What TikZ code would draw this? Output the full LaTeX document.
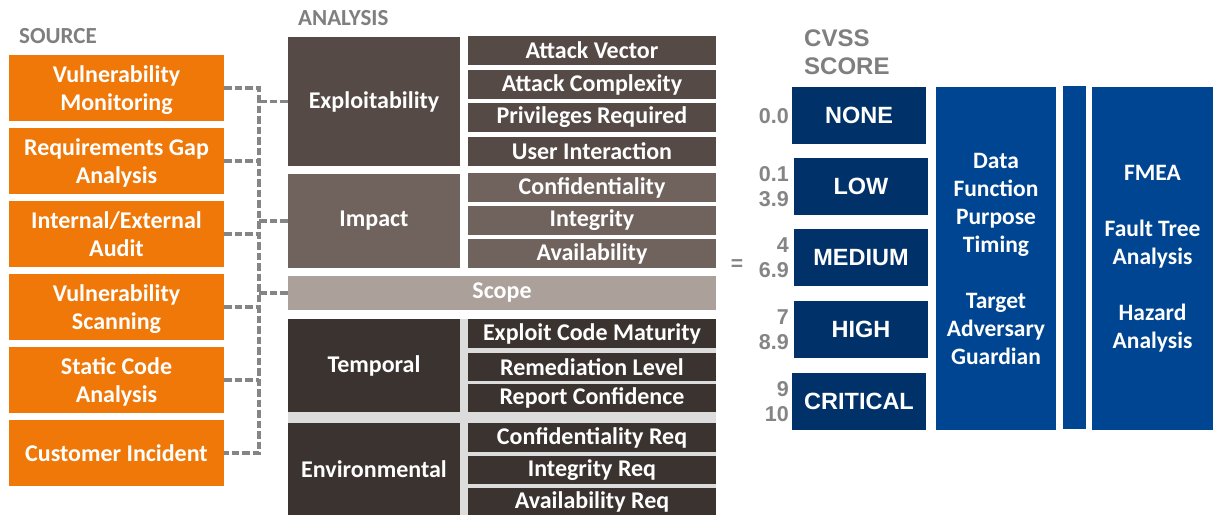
\documentclass[tikz,border=0pt]{standalone}
\usepackage{fontspec}
\setmainfont{Carlito}
\newfontfamily\arialfont{Liberation Sans}
\definecolor{srcorange}{HTML}{F07808}
\definecolor{exdark}{HTML}{554A45}
\definecolor{impbrown}{HTML}{70635D}
\definecolor{scopegray}{HTML}{ACA09B}
\definecolor{tempdark}{HTML}{3B3330}
\definecolor{bglight}{HTML}{DCDCDC}
\definecolor{navy}{HTML}{003269}
\definecolor{colblue}{HTML}{004592}
\definecolor{txtgray}{HTML}{7F7F7F}
\definecolor{numgray}{HTML}{858585}
\definecolor{dashgray}{HTML}{858585}
\tikzset{
  box/.style={anchor=north west, inner sep=0pt, outer sep=0pt, text=white, align=center,
    font=\bfseries\fontsize{24}{28}\selectfont},
  srcbox/.style={box, fill=srcorange, minimum width=215pt, minimum height=66pt, text depth=0pt},
  bigbox/.style={box, minimum width=172pt},
  subbox/.style={box, minimum width=248pt},
  scorebox/.style={box, fill=navy, minimum width=134pt, minimum height=57pt,
    font=\arialfont\bfseries\fontsize{23.5}{26}\selectfont},
  colbox/.style={box, fill=colblue, minimum height=343pt},
  numlbl/.style={anchor=east, inner sep=0pt, align=right, text=numgray,
    font=\arialfont\bfseries\fontsize{21.5}{25}\selectfont},
  heading/.style={anchor=north west, inner sep=0pt, text=txtgray, align=left,
    font=\bfseries\fontsize{23}{24}\selectfont},
  dashline/.style={draw=dashgray, line width=3.5pt, dash pattern=on 7.5pt off 3pt}
}
\begin{document}
\begin{tikzpicture}[x=1pt,y=-1pt]
\useasboundingbox[fill=white] (0,0) rectangle (1213,515);
% headings
\node[heading] (hsrc) at (19,28) {SOURCE};
\node[heading] (hana) at (298,10) {ANALYSIS};
\node[heading, font=\arialfont\bfseries\fontsize{24}{28}\selectfont] (hcvss) at (804,30) {CVSS\\SCORE};
% source boxes
\node[srcbox] (s1) at (9,55) {Vulnerability\\Monitoring};
\node[srcbox] (s2) at (9,128) {Requirements Gap\\Analysis};
\node[srcbox] (s3) at (9,201) {Internal/External\\Audit};
\node[srcbox] (s4) at (9,274) {Vulnerability\\Scanning};
\node[srcbox] (s5) at (9,347) {Static Code\\Analysis};
\node[srcbox] (s6) at (9,420) {Customer Incident};
% analysis
\node[bigbox, fill=exdark, minimum height=129pt] (expl) at (288,37) {Exploitability};
\node[subbox, fill=exdark, minimum height=29pt] (av) at (468,36) {Attack Vector};
\node[subbox, fill=exdark, minimum height=29pt] (ac) at (468,70) {Attack Complexity};
\node[subbox, fill=exdark, minimum height=29pt] (pr) at (468,103) {Privileges Required};
\node[subbox, fill=exdark, minimum height=29pt] (ui) at (468,137) {User Interaction};
\node[bigbox, fill=impbrown, minimum height=94pt] (imp) at (288,174) {Impact};
\node[subbox, fill=impbrown, minimum height=29pt] (conf) at (468,173) {Confidentiality};
\node[subbox, fill=impbrown, minimum height=29pt] (integ) at (468,206) {Integrity};
\node[subbox, fill=impbrown, minimum height=29pt] (avail) at (468,239) {Availability};
\node[box, fill=scopegray, minimum width=428pt, minimum height=34pt] (scope) at (288,276) {Scope};
\node[box, fill=bglight, minimum width=428pt, minimum height=196pt] (bg) at (288,319) {};
\node[bigbox, fill=tempdark, minimum height=93pt] (temp) at (288,319) {Temporal};
\node[subbox, fill=tempdark, minimum height=29pt] (ecm) at (468,319) {Exploit Code Maturity};
\node[subbox, fill=tempdark, minimum height=28pt] (rl) at (468,353) {Remediation Level};
\node[subbox, fill=tempdark, minimum height=28pt] (rc) at (468,384) {Report Confidence};
\node[bigbox, fill=tempdark, minimum height=92pt] (env) at (288,423) {Environmental};
\node[subbox, fill=tempdark, minimum height=29pt] (cr) at (468,423) {Confidentiality Req};
\node[subbox, fill=tempdark, minimum height=28pt] (ir) at (468,456) {Integrity Req};
\node[subbox, fill=tempdark, minimum height=27pt] (ar) at (468,488) {Availability Req};
% connectors
\coordinate (busx) at (259,0);
\draw[dashline] (s1.east) -- (s1.east -| busx) -- (s6.east -| busx) -- (s6.east);
\foreach \s in {s2,s3,s4,s5} { \draw[dashline] (\s.east) -- (\s.east -| busx); }
\foreach \t in {expl,imp,scope} { \draw[dashline] (\t.west -| busx) -- (\t.west); }
% CVSS scores
\node[anchor=center, inner sep=0pt, text=numgray, font=\arialfont\bfseries\fontsize{21}{24}\selectfont] (eq) at (737,265) {=};
\node[scorebox] (none) at (792,87) {NONE};
\node[scorebox] (low) at (794,158) {LOW};
\node[scorebox] (med) at (794,229) {MEDIUM};
\node[scorebox] (high) at (794,301) {HIGH};
\node[scorebox] (crit) at (792,373) {CRITICAL};
\node[numlbl] (n0) at (789,116) {0.0};
\node[numlbl] (n1) at (789,187) {0.1\\3.9};
\node[numlbl] (n2) at (789,258) {4\\6.9};
\node[numlbl] (n3) at (789,330) {7\\8.9};
\node[numlbl] (n4) at (789,402) {9\\10};
% blue columns
\node[colbox, minimum width=120pt, font=\bfseries\fontsize{23.5}{28}\selectfont] (c1) at (936,87) {Data\\Function\\Purpose\\Timing\\[28pt]Target\\Adversary\\Guardian};
\node[colbox, minimum width=23pt] (c2) at (1063,86) {};
\node[colbox, minimum width=121pt, font=\bfseries\fontsize{23.5}{28}\selectfont] (c3) at (1092,87) {FMEA\\[28pt]Fault Tree\\Analysis\\[28pt]Hazard\\Analysis};
\end{tikzpicture}
\end{document}
